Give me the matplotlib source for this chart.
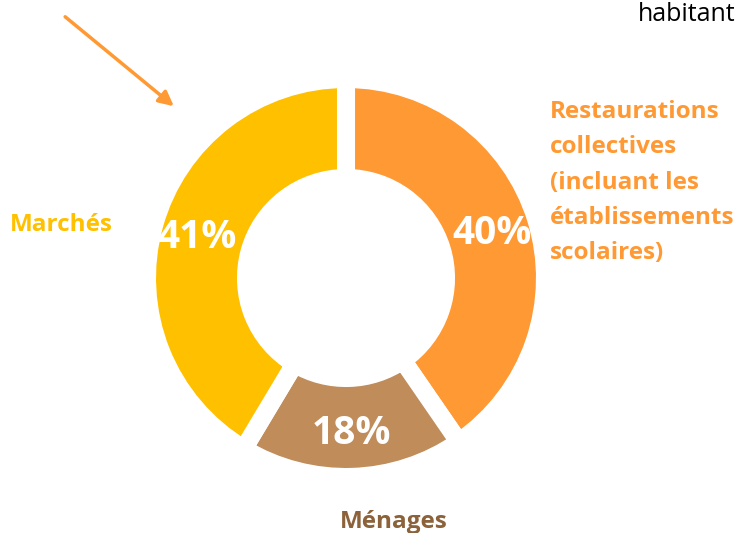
import matplotlib.pyplot as plt
from matplotlib.patches import FancyArrowPatch

# data
categories = ["Restaurations collectives", "Ménages", "Marchés"]
shares = [40, 18, 41]
pct_labels = ["40%", "18%", "41%"]
colors = ["#FF9933", "#BF8C5A", "#FFC000"]

W, H = 738, 533
fig = plt.figure(figsize=(W / 100, H / 100), dpi=100)
ax = fig.add_axes([0, 0, 1, 1])
ax.set_xlim(0, W)
ax.set_ylim(0, H)
ax.set_aspect("equal")
ax.axis("off")

# white edge eats ~9px on each side, so radius is a bit larger than the visible ring
cx, cy, R = 346, H - 278, 199
wedges, _ = ax.pie(shares, colors=colors, startangle=90, counterclock=False,
                   center=(cx, cy), radius=R,
                   wedgeprops=dict(width=99, edgecolor="white", linewidth=13))
ax.set_xlim(0, W)
ax.set_ylim(0, H)

font = "Open Sans"
pos = [(492, H - 233), (351, H - 433), (197, H - 238)]
for (x, y), lab in zip(pos, pct_labels):
    ax.text(x, y, lab, ha="center", va="center", color="white",
            fontsize=28, fontweight="bold", family=font)

ax.text(550, H - 100, "Restaurations\ncollectives\n(incluant les\nétablissements\nscolaires)",
        ha="left", va="top", color="#FF9933", fontsize=17.5, fontweight="bold",
        family=font, linespacing=1.63)
ax.text(10, H - 225, "Marchés", ha="left", va="center", color="#FFC000",
        fontsize=17.5, fontweight="bold", family=font)
ax.text(394, H - 522, "Ménages", ha="center", va="center", color="#8B6239",
        fontsize=17.5, fontweight="bold", family=font)
ax.text(736, H - 21, "habitant", ha="right", va="baseline", color="black",
        fontsize=18, family=font)

arrow = FancyArrowPatch((63, H - 15), (176, H - 108), arrowstyle="-|>",
                        mutation_scale=22, color="#FF9933", linewidth=2.5)
ax.add_patch(arrow)

fig.savefig("out.png", dpi=100)
